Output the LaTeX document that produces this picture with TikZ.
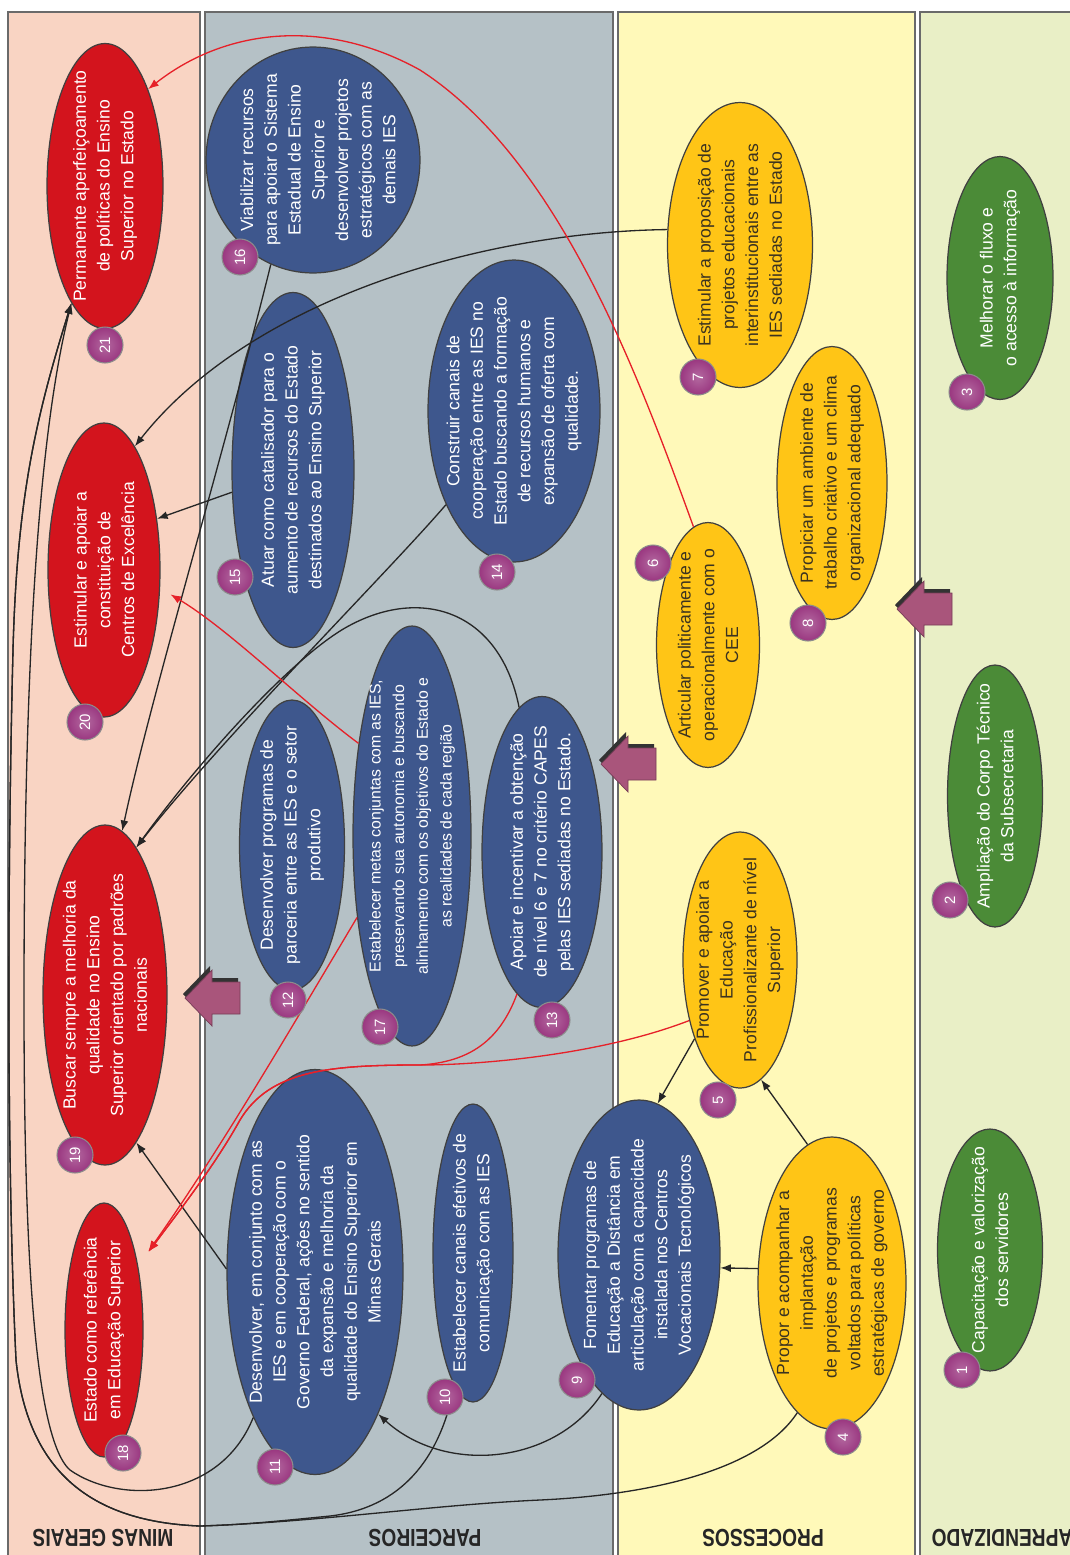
\documentclass[tikz,border=0pt]{standalone}
\usepackage{fontspec}
\setmainfont{Liberation Sans}
\usepackage{graphicx}
\usetikzlibrary{shapes.geometric,arrows.meta}

\definecolor{bgminas}{HTML}{F9D4C3}
\definecolor{bgparc}{HTML}{B5C1C6}
\definecolor{bgproc}{HTML}{FFF9B9}
\definecolor{bgapre}{HTML}{E9EFC6}
\definecolor{redfill}{HTML}{D3141D}
\definecolor{navyfill}{HTML}{3E578D}
\definecolor{goldfill}{HTML}{FFC516}
\definecolor{greenfill}{HTML}{4B8B37}
\definecolor{badgefill}{HTML}{9A3780}
\definecolor{mauve}{HTML}{A9557B}
\definecolor{redline}{HTML}{E62129}
\definecolor{darktext}{HTML}{3B3320}
\definecolor{bandline}{HTML}{6A6A6A}

\tikzset{
  band/.style={draw=bandline, line width=1.3pt},
  ell/.style={ellipse, draw=black!75, line width=0.7pt, inner sep=0pt},
  redell/.style={ell, fill=redfill},
  navyell/.style={ell, fill=navyfill},
  goldell/.style={ell, fill=goldfill},
  greenell/.style={ell, fill=greenfill},
  txt/.style={rotate=90, align=center, inner sep=0pt, font=\fontsize{10}{13.5}\selectfont},
  wtxt/.style={txt, text=white},
  dtxt/.style={txt, text=darktext},
  badge/.style={circle, draw=black!45, line width=0.6pt, shading=radial,
    inner color=badgefill!75!white, outer color=badgefill, minimum size=0.72cm,
    inner sep=0pt, text=white, font=\fontsize{8.5}{8.5}\selectfont, rotate=90},
  bandlabel/.style={rotate=180, text=black!85, inner sep=0pt, font=\fontsize{14}{14}\selectfont\bfseries},
  arr/.style={draw=black!85, line width=0.75pt, -{Latex[length=6pt,width=4.5pt]}},
  rarr/.style={draw=redline, line width=0.75pt, -{Latex[length=6pt,width=4.5pt]}},
}

% left-pointing block arrow with a dark bevel: tip x, centre y
\newcommand{\blockarrow}[2]{%
  \begin{scope}[shift={(#1,#2)}]
    \fill[black!80] (-2,-4) -- (25,-32) -- (25,-20) -- (53,-20) -- (53,12) -- (25,12) -- (25,24) -- cycle;
    \fill[mauve, draw=mauve!70!black, line width=0.4pt] (0,0) -- (27,-28) -- (27,-16) -- (55,-16)
      -- (55,16) -- (27,16) -- (27,28) -- cycle;
  \end{scope}}

\begin{document}
\begin{tikzpicture}[x=0.02cm, y=-0.02cm]
\useasboundingbox (0,0) rectangle (1070,1555);
\fill[white] (0,0) rectangle (1070,1555);

% perspective bands
\begin{scope}
  \clip (0,0) rectangle (1070,1555);
  \draw[band, fill=bgminas] (8,12) rectangle (200,1575);
  \draw[band, fill=bgparc]  (205,12) rectangle (613,1575);
  \draw[band, fill=bgproc]  (618,12) rectangle (915,1575);
  \draw[band, fill=bgapre]  (920,12) rectangle (1090,1575);
\end{scope}

\node[bandlabel] (lminas) at (103,1538) {\scalebox{0.78}[1]{MINAS GERAIS}};
\node[bandlabel] (lparc)  at (425,1538) {\scalebox{0.78}[1]{PARCEIROS}};
\node[bandlabel] (lproc)  at (763,1538) {\scalebox{0.78}[1]{PROCESSOS}};
\node[bandlabel] (lapre)  at (1002,1538) {\scalebox{0.78}[1]{APRENDIZADO}};

% block arrows between perspectives
\blockarrow{185}{998}
\blockarrow{601}{764}
\blockarrow{897}{609}

% ---------- Minas Gerais ----------
\node[redell, minimum width=2.32cm, minimum height=5.70cm] (n21) at (105,186) {};
\node[wtxt] (t21) at (n21) {Permanente aperfeiçoamento\\de políticas do Ensino\\Superior no Estado};
\node[redell, minimum width=2.24cm, minimum height=5.88cm] (n20) at (104,570) {};
\node[wtxt] (t20) at (n20) {Estimular e apoiar a\\constituição de\\Centros de Excelência};
\node[redell, minimum width=2.48cm, minimum height=6.80cm] (n19) at (105,995) {};
\node[wtxt] (t19) at (n19) {Buscar sempre a melhoria da\\qualidade no Ensino\\Superior orientado por padrões\\nacionais};
\node[redell, minimum width=1.56cm, minimum height=5.08cm] (n18) at (104,1330) {};
\node[wtxt] (t18) at (n18) {Estado como referência\\em Educação Superior};

% ---------- Parceiros ----------
\node[navyell, minimum width=4.28cm, minimum height=4.52cm] (n16) at (313,160) {};
\node[wtxt] (t16) at (318,160) {Viabilizar recursos\\para apoiar o Sistema\\Estadual de Ensino\\Superior e\\desenvolver projetos\\estratégicos com as\\demais IES};
\node[navyell, minimum width=2.44cm, minimum height=7.10cm] (n15) at (293,470) {};
\node[wtxt] (t15) at (n15) {Atuar como catalisador para o\\aumento de recursos do Estado\\destinados ao Ensino Superior};
\node[navyell, minimum width=3.44cm, minimum height=6.04cm] (n14) at (514,411) {};
\node[wtxt] (t14) at (n14) {Construir canais de\\cooperação entre as IES no\\Estado buscando a formação\\de recursos humanos e\\expansão de oferta com\\qualidade.};
\node[navyell, minimum width=2.10cm, minimum height=5.80cm] (n12) at (292,845) {};
\node[wtxt] (t12) at (n12) {Desenvolver programas de\\parceria entre as IES e o setor\\produtivo};
\node[navyell, minimum width=2.36cm, minimum height=8.40cm] (n17) at (412,836) {};
\node[wtxt, font=\fontsize{9}{13.5}\selectfont] (t17) at (412,826) {Estabelecer metas conjuntas com as IES,\\preservando sua autonomia e buscando\\alinhamento com os objetivos do Estado e\\as realidades de cada região};
\node[navyell, minimum width=2.40cm, minimum height=6.22cm] (n13) at (542,852) {};
\node[wtxt] (t13) at (n13) {Apoiar e incentivar a obtenção\\de nível 6 e 7 no critério CAPES\\pelas IES sediadas no Estado.};
\node[navyell, minimum width=3.52cm, minimum height=8.10cm] (n11) at (315,1272) {};
\node[wtxt] (t11) at (n11) {Desenvolver, em conjunto com as\\IES e em cooperação com o\\Governo Federal, ações no sentido\\da expansão e melhoria da\\qualidade do Ensino Superior em\\Minas Gerais};
\node[navyell, minimum width=1.60cm, minimum height=5.96cm] (n10) at (473,1253) {};
\node[wtxt] (t10) at (n10) {Estabelecer canais efetivos de\\comunicação com as IES};
\node[navyell, minimum width=3.24cm, minimum height=6.20cm] (n9) at (639,1255) {};
\node[wtxt] (t9) at (n9) {Fomentar programas de\\Educação a Distância em\\articulação com a capacidade\\instalada nos Centros\\Vocacionais Tecnológicos};

% ---------- Processos ----------
\node[goldell, minimum width=2.90cm, minimum height=5.70cm] (n7) at (740,245) {};
\node[dtxt] (t7) at (n7) {Estimular a proposição de\\projetos educacionais\\interinstitucionais entre as\\IES sediadas no Estado};
\node[goldell, minimum width=2.20cm, minimum height=5.46cm] (n8) at (832,483) {};
\node[dtxt] (t8) at (n8) {Propiciar um ambiente de\\trabalho criativo e um clima\\organizacional adequado};
\node[goldell, minimum width=2.06cm, minimum height=4.90cm] (n6) at (708,645) {};
\node[dtxt] (t6) at (n6) {Articular politicamente e\\operacionalmente com o\\CEE};
\node[goldell, minimum width=2.28cm, minimum height=5.12cm] (n5) at (740,960) {};
\node[dtxt] (t5) at (n5) {Promover e apoiar a\\Educação\\Profissionalizante de nível\\Superior};
\node[goldell, minimum width=2.96cm, minimum height=5.84cm] (n4) at (832,1283) {};
\node[dtxt] (t4) at (n4) {Propor e acompanhar a\\implantação\\de projetos e programas\\voltados para políticas\\estratégicas de governo};

% ---------- Aprendizado ----------
\node[greenell, minimum width=2.12cm, minimum height=4.86cm] (n3) at (1000,278) {};
\node[wtxt] (t3) at (n3) {Melhorar o fluxo e\\o acesso à informação};
\node[greenell, minimum width=1.90cm, minimum height=5.24cm] (n2) at (995,796) {};
\node[wtxt] (t2) at (n2) {Ampliação do Corpo Técnico\\da Subsecretaria};
\node[greenell, minimum width=2.10cm, minimum height=4.84cm] (n1) at (990,1250) {};
\node[wtxt] (t1) at (n1) {Capacitação e valorização\\dos servidores};

% ---------- black relations ----------
\draw[arr] (n7.168) .. controls (480,232) and (250,300) .. (n20.76);
\draw[arr] (n15.200) -- (n20.44);
\draw[arr] (n16.248) .. controls (225,450) and (150,700) .. (n19.84);
\draw[arr] (n14.234) .. controls (390,570) and (220,740) .. (n19.78);
\draw[arr] (n13.99) .. controls (500,610) and (420,585) .. (345,628)
  .. controls (290,660) and (200,760) .. (n19.78);
\draw[arr] (n11.178) -- (n19.282);
\draw[arr] (n4.100) -- (n5.280);
\draw[arr] (n4.169) -- (n9.351);
\draw[arr] (n5.240) -- (n9.83);
\draw[arr] (n9.255) .. controls (555,1465) and (445,1475) .. (n11.294);
% long returns along the outer edge of the Minas Gerais band
\draw[arr] (n4.255) .. controls (760,1470) and (650,1495) .. (540,1500)
  .. controls (430,1505) and (320,1522) .. (200,1526)
  .. controls (95,1522) and (28,1475) .. (16,1360)
  .. controls (6,1150) and (8,850) .. (13,650)
  .. controls (17,500) and (35,420) .. (n21.254);
\draw[arr] (n10.262) .. controls (440,1460) and (400,1508) .. (330,1516)
  .. controls (280,1521) and (240,1525) .. (200,1526)
  .. controls (95,1522) and (28,1475) .. (16,1360)
  .. controls (6,1150) and (8,850) .. (13,650)
  .. controls (17,500) and (35,420) .. (n21.254);
\draw[arr] (n11.247) .. controls (220,1500) and (120,1505) .. (70,1470)
  .. controls (30,1435) and (24,1200) .. (24,1000)
  .. controls (24,700) and (35,450) .. (n21.254);

% ---------- red relations ----------
\draw[rarr] (n6.97) .. controls (640,380) and (560,160) .. (420,70)
  .. controls (330,20) and (230,25) .. (n21.66);
\draw[rarr, shorten >=0.24cm] (n17.120) .. controls (300,700) and (230,630) .. (n20.342);
\draw[rarr, shorten >=0.35cm] (n17.236) .. controls (290,1030) and (220,1150) .. (n18.62);
\draw[rarr, shorten >=0.35cm] (n5.230) .. controls (600,1055) and (480,1065) .. (420,1065)
  .. controls (330,1065) and (270,1070) .. (240,1120)
  .. controls (215,1165) and (180,1210) .. (n18.62);
\draw[rarr, shorten >=0.35cm] (n13.260) .. controls (500,1040) and (470,1062) .. (420,1065)
  .. controls (330,1065) and (270,1070) .. (240,1120)
  .. controls (215,1165) and (180,1210) .. (n18.62);

% ---------- number badges ----------
\node[badge] (b21) at (105,345) {21};
\node[badge] (b20) at (85,722) {20};
\node[badge] (b19) at (75,1155) {19};
\node[badge] (b18) at (123,1453) {18};
\node[badge] (b16) at (240,257) {16};
\node[badge] (b15) at (235,577) {15};
\node[badge] (b14) at (497,572) {14};
\node[badge] (b12) at (288,1000) {12};
\node[badge] (b17) at (380,1027) {17};
\node[badge] (b13) at (552,1020) {13};
\node[badge] (b11) at (275,1467) {11};
\node[badge] (b10) at (445,1397) {10};
\node[badge] (b9) at (577,1380) {9};
\node[badge] (b7) at (698,377) {7};
\node[badge] (b8) at (808,623) {8};
\node[badge] (b6) at (653,563) {6};
\node[badge] (b5) at (718,1100) {5};
\node[badge] (b4) at (843,1437) {4};
\node[badge] (b3) at (967,392) {3};
\node[badge] (b2) at (950,900) {2};
\node[badge] (b1) at (962,1370) {1};
\end{tikzpicture}
\end{document}
